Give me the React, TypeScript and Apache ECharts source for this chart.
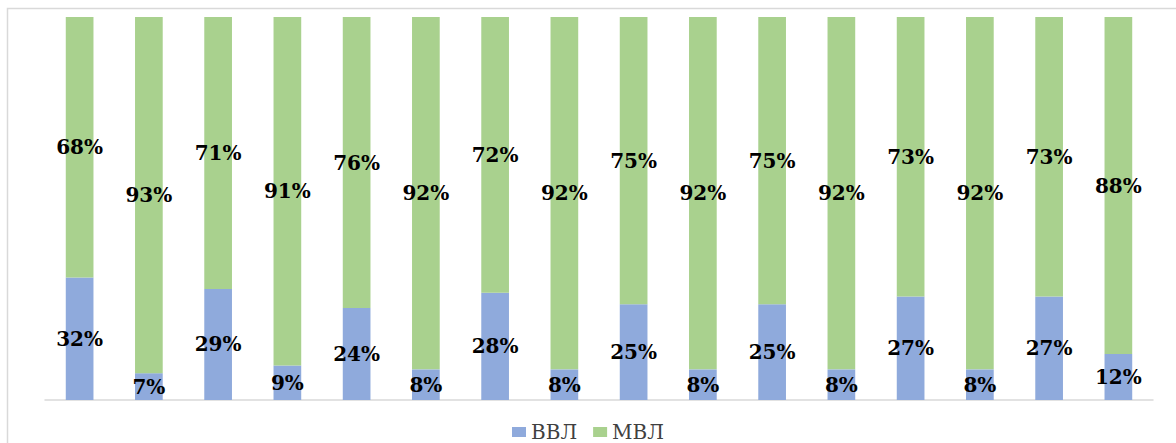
import React, { useEffect, useRef } from "react";
import * as echarts from "echarts";

const categories = ["1", "2", "3", "4", "5", "6", "7", "8", "9", "10", "11", "12", "13", "14", "15", "16"];
const vvlValues = [32, 7, 29, 9, 24, 8, 28, 8, 25, 8, 25, 8, 27, 8, 27, 12];
const mvlValues = [68, 93, 71, 91, 76, 92, 72, 92, 75, 92, 75, 92, 73, 92, 73, 88];
const seriesNames = ["ВВЛ", "МВЛ"];

export default function App() {
  const ref = useRef<HTMLDivElement>(null);
  useEffect(() => {
    document.body.style.margin = "0";
    const chart = echarts.init(ref.current!, null, { renderer: "svg" });
    const labelStyle = {
      show: true,
      position: "inside" as const,
      formatter: "{c}%",
      color: "#000",
      fontFamily: "DejaVu Serif",
      fontWeight: "bold" as const,
      fontSize: 20,
    };
    chart.setOption({
      animation: false,
      backgroundColor: "#fff",
      grid: { left: 45, right: 23, top: 17, bottom: 43, containLabel: false },
      legend: {
        top: 422,
        left: "center",
        itemWidth: 14,
        itemHeight: 10,
        itemGap: 16,
        icon: "rect",
        padding: 0,
        textStyle: { fontFamily: "DejaVu Serif", fontSize: 20, color: "#404040" },
        data: seriesNames,
      },
      xAxis: {
        type: "category",
        data: categories,
        axisLine: { lineStyle: { color: "#d9d9d9", width: 1.5 } },
        axisTick: { show: false },
        axisLabel: { show: false },
      },
      yAxis: { type: "value", min: 0, max: 100, show: false, splitLine: { show: false } },
      graphic: [
        {
          type: "rect",
          shape: { x: 7.5, y: 8.5, width: 1300, height: 600 },
          style: { fill: "none", stroke: "#d9d9d9", lineWidth: 1.5 },
          silent: true,
        },
      ],
      series: [
        {
          name: seriesNames[0],
          type: "bar",
          stack: "s",
          data: vvlValues,
          barWidth: "40%",
          itemStyle: { color: "#8faadc" },
          label: labelStyle,
        },
        {
          name: seriesNames[1],
          type: "bar",
          stack: "s",
          data: mvlValues,
          barWidth: "40%",
          itemStyle: { color: "#a9d18e" },
          label: labelStyle,
        },
      ],
    });
    return () => chart.dispose();
  }, []);
  return <div ref={ref} style={{ width: 1176, height: 443 }} />;
}
